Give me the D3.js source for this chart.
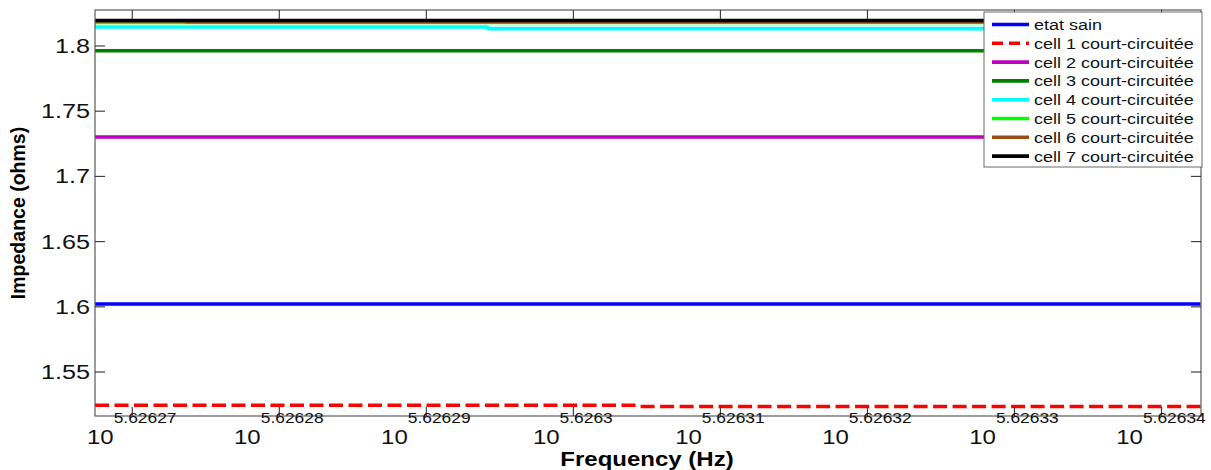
<!DOCTYPE html>
<html>
<head>
<meta charset="utf-8">
<script src="https://cdn.jsdelivr.net/npm/d3@7"></script>
<style>
  body { margin: 0; background: #fff; }
  text { font-family: Arial, "Liberation Sans", sans-serif; }
</style>
</head>
<body>
<div id="chart"></div>
<script>
// frequency samples, given as log10(Hz)
const freqLog10 = [5.6262675, 5.6262736, 5.6262737, 5.6262942, 5.6262943, 5.6263044, 5.6263045, 5.6263427];

const etatSain = [1.6018, 1.6018, 1.6018, 1.6018, 1.6018, 1.6018, 1.6018, 1.6018];
const cell1 = [1.5241, 1.5241, 1.5241, 1.5241, 1.5241, 1.5241, 1.5232, 1.5232];
const cell2 = [1.7298, 1.7298, 1.7298, 1.7298, 1.7298, 1.7298, 1.7298, 1.7298];
const cell3 = [1.7959, 1.7959, 1.7959, 1.7959, 1.7959, 1.7959, 1.7959, 1.7959];
const cell4 = [1.8142, 1.8142, 1.8142, 1.8142, 1.8129, 1.8129, 1.8129, 1.8129];
const cell5 = [1.8176, 1.8176, 1.8176, 1.8176, 1.8176, 1.8176, 1.8176, 1.8176];
const cell6 = [1.8189, 1.8189, 1.8183, 1.8183, 1.8183, 1.8183, 1.8183, 1.8183];
const cell7 = [1.8192, 1.8192, 1.8192, 1.8192, 1.8192, 1.8192, 1.8192, 1.8192];

const seriesNames = ["etat sain", "cell 1 court-circuitée", "cell 2 court-circuitée", "cell 3 court-circuitée",
  "cell 4 court-circuitée", "cell 5 court-circuitée", "cell 6 court-circuitée", "cell 7 court-circuitée"];
const seriesValues = [etatSain, cell1, cell2, cell3, cell4, cell5, cell6, cell7];
const seriesColors = ["#0000ff", "#ff0000", "#bf00bf", "#007f00", "#00ffff", "#00ff00", "#9c4a14", "#000000"];

const xTickExp = ["5.62627", "5.62628", "5.62629", "5.6263", "5.62631", "5.62632", "5.62633", "5.62634"];
const yTicks = [1.55, 1.6, 1.65, 1.7, 1.75, 1.8];

const width = 1211, height = 470;
const margin = { left: 95, right: 10, top: 10, bottom: 54 };
const stretch = 1.2; // text in the reference is widened horizontally

const svg = d3.select("#chart").append("svg")
  .attr("width", width)
  .attr("height", height);

const x = d3.scaleLog()
  .domain([Math.pow(10, 5.6262675), Math.pow(10, 5.62634272)])
  .range([margin.left, width - margin.right]);

const y = d3.scaleLinear()
  .domain([1.5159, 1.8272])
  .range([height - margin.bottom, margin.top]);

const x0 = x.range()[0], x1 = x.range()[1];
const y0 = y.range()[0], y1 = y.range()[1];

svg.append("clipPath").attr("id", "plotClip")
  .append("rect")
  .attr("x", x0).attr("y", y1)
  .attr("width", x1 - x0).attr("height", y0 - y1);

// --- series lines ---
const line = d3.line()
  .x((d, i) => x(Math.pow(10, freqLog10[i])))
  .y(d => y(d));

svg.append("g")
  .attr("clip-path", "url(#plotClip)")
  .selectAll("path")
  .data(seriesValues)
  .enter()
  .append("path")
  .attr("d", d => line(d))
  .attr("fill", "none")
  .attr("stroke", (d, i) => seriesColors[i])
  .attr("stroke-width", (d, i) => i === 1 ? 3.5 : 3.6)
  .attr("stroke-dasharray", (d, i) => i === 1 ? "14,5.5" : null);

// --- axes box ---
svg.append("rect")
  .attr("x", x0).attr("y", y1)
  .attr("width", x1 - x0).attr("height", y0 - y1)
  .attr("fill", "none")
  .attr("stroke", "#5a5a5a")
  .attr("stroke-width", 1.2);

// --- x ticks (bottom and top, inward) ---
const xTickVals = xTickExp.map(e => Math.pow(10, +e));
const xAxisBottom = d3.axisBottom(x).tickValues(xTickVals).tickSize(-9).tickFormat("");
const xAxisTop = d3.axisTop(x).tickValues(xTickVals).tickSize(-9).tickFormat("");
svg.append("g").attr("transform", `translate(0,${y0})`).call(xAxisBottom);
svg.append("g").attr("transform", `translate(0,${y1})`).call(xAxisTop);

// --- y ticks (left and right, inward) ---
const yAxisLeft = d3.axisLeft(y).tickValues(yTicks).tickSize(-10).tickFormat("");
const yAxisRight = d3.axisRight(y).tickValues(yTicks).tickSize(-10).tickFormat("");
svg.append("g").attr("transform", `translate(${x0},0)`).call(yAxisLeft);
svg.append("g").attr("transform", `translate(${x1},0)`).call(yAxisRight);

svg.selectAll(".domain").remove();
svg.selectAll(".tick line").attr("stroke", "#333").attr("stroke-width", 1.1);

// --- x tick labels: 10^exp ---
xTickExp.forEach((e, i) => {
  const t = svg.append("text")
    .attr("transform", `translate(${x(xTickVals[i])},444) scale(${stretch},1)`)
    .attr("text-anchor", "middle")
    .attr("fill", "#111");
  t.append("tspan").style("font-size", "20px").text("10");
  t.append("tspan").style("font-size", "14.5px").attr("dy", -21).text(e);
});

// --- y tick labels ---
yTicks.forEach(v => {
  svg.append("text")
    .attr("transform", `translate(90,${y(v) + 7.5}) scale(${stretch},1)`)
    .attr("text-anchor", "end")
    .attr("fill", "#111")
    .style("font-size", "21px")
    .text(v);
});

// --- axis titles ---
svg.append("text")
  .attr("transform", `translate(647,466) scale(${stretch},1)`)
  .attr("text-anchor", "middle")
  .style("font-size", "20px")
  .style("font-weight", "bold")
  .text("Frequency (Hz)");

svg.append("text")
  .attr("transform", `translate(25,213) rotate(-90)`)
  .attr("text-anchor", "middle")
  .style("font-size", "19.5px")
  .style("font-weight", "bold")
  .text("Impedance (ohms)");

// --- legend ---
const legend = svg.append("g").attr("transform", "translate(984,12)");
legend.append("rect")
  .attr("width", 218).attr("height", 155)
  .attr("fill", "#fff")
  .attr("stroke", "#6a6a6a")
  .attr("stroke-width", 1);

const rows = legend.selectAll(".legend-row")
  .data(seriesNames)
  .enter()
  .append("g")
  .attr("class", "legend-row")
  .attr("transform", (d, i) => `translate(0,${12.5 + i * 18.8})`);

rows.append("line")
  .attr("x1", 8).attr("x2", 45)
  .attr("stroke", (d, i) => seriesColors[i])
  .attr("stroke-width", 3.6)
  .attr("stroke-dasharray", (d, i) => i === 1 ? "11,6" : null);

rows.append("text")
  .attr("transform", `translate(50,5.4) scale(${stretch},1)`)
  .style("font-size", "15px")
  .attr("fill", "#111")
  .text(d => d);
</script>
</body>
</html>
